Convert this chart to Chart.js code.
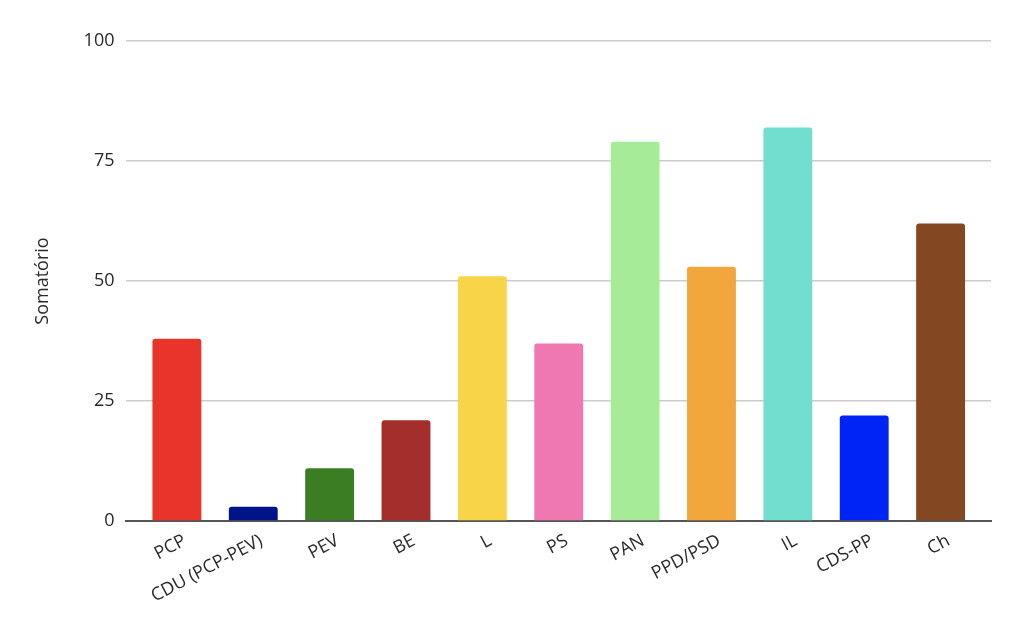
<!DOCTYPE html>
<html>
<head>
<meta charset="utf-8">
<script src="https://cdn.jsdelivr.net/npm/chart.js@4"></script>
<style>
html,body{margin:0;padding:0;background:#fff;}
#wrap{width:1024px;height:633px;}
</style>
</head>
<body>
<div id="wrap"><canvas id="c" width="1024" height="633"></canvas></div>
<script>
const categories = ["PCP","CDU (PCP-PEV)","PEV","BE","L","PS","PAN","PPD/PSD","IL","CDS-PP","Ch"];
const values = [38, 3, 11, 21, 51, 37, 79, 53, 82, 22, 62];
const barColors = ["#e8342a","#001489","#3a7d23","#a32e2b","#f8d548","#ef77b2","#a6ec98","#f1a73c","#72decf","#0024f5","#834721"];
const yTicks = [0, 25, 50, 75, 100];
const yTitle = "Somatório";

const points = values.map((v, i) => ({x: i, y: v}));
const xEdge = 0.66; // extra room beyond the outer categories (in category units)

new Chart(document.getElementById('c'), {
  type: 'bar',
  data: {
    datasets: [{
      data: points,
      backgroundColor: barColors,
      borderRadius: {topLeft: 3, topRight: 3},
      borderSkipped: 'bottom',
      categoryPercentage: 1.0,
      barPercentage: 0.64
    }]
  },
  options: {
    responsive: false,
    animation: false,
    devicePixelRatio: 1,
    layout: {padding: {top: 41, right: 33, left: 28, bottom: 17}},
    plugins: {legend: {display: false}, tooltip: {enabled: false}},
    scales: {
      x: {
        type: 'linear',
        offset: false,
        min: -xEdge,
        max: categories.length - 1 + xEdge,
        afterBuildTicks: (scale) => { scale.ticks = categories.map((c, i) => ({value: i})); },
        grid: {display: false, drawTicks: false},
        border: {display: true, color: '#555', width: 2},
        ticks: {
          color: '#2a2a2a',
          font: {family: 'Open Sans', size: 18},
          minRotation: 28, maxRotation: 28,
          autoSkip: false,
          labelOffset: 8,
          padding: 9,
          callback: (v) => categories[v]
        }
      },
      y: {
        min: 0, max: 100,
        afterBuildTicks: (scale) => { scale.ticks = yTicks.map(v => ({value: v})); },
        grid: {color: '#cccccc', lineWidth: 1.5, drawTicks: false},
        border: {display: false},
        ticks: {
          color: '#2a2a2a',
          font: {family: 'Open Sans', size: 18},
          padding: 12
        },
        title: {
          display: true,
          text: yTitle,
          color: '#2a2a2a',
          font: {family: 'Open Sans', size: 18},
          padding: {top: 4, bottom: 18}
        }
      }
    }
  }
});
</script>
</body>
</html>
